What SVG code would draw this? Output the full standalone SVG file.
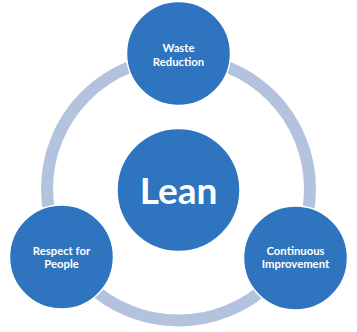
<svg xmlns="http://www.w3.org/2000/svg" width="357" height="332" viewBox="0 0 357 332">
<style>
.node{fill:#2E74BF;stroke:#ffffff;stroke-width:1.5}
.lbl{font-family:Lato,"Open Sans","Liberation Sans",sans-serif;font-weight:bold;fill:#ffffff;text-anchor:middle;font-size:11.3px}
.big{font-size:37px}
</style>
<rect width="357" height="332" fill="#ffffff"/>
<g id="connectors">
<circle cx="178.5" cy="189" r="131.5" fill="none" stroke="#B3C3DD" stroke-width="12"/>
</g>
<g id="lean">
<circle class="node" cx="178.5" cy="190" r="61.5"/>
<text class="lbl big" x="178.5" y="203.5">Lean</text>
</g>
<g id="waste">
<circle class="node" cx="178.5" cy="53.5" r="52"/>
<text class="lbl" x="178.5" y="52">Waste</text>
<text class="lbl" x="178.5" y="65.6">Reduction</text>
</g>
<g id="respect">
<circle class="node" cx="61.5" cy="257" r="52"/>
<text class="lbl" x="61.5" y="254.6">Respect for</text>
<text class="lbl" x="61.5" y="268.2">People</text>
</g>
<g id="continuous">
<circle class="node" cx="295.5" cy="258" r="52"/>
<text class="lbl" x="295.5" y="254.6">Continuous</text>
<text class="lbl" x="295.5" y="268.2">Improvement</text>
</g>
</svg>
